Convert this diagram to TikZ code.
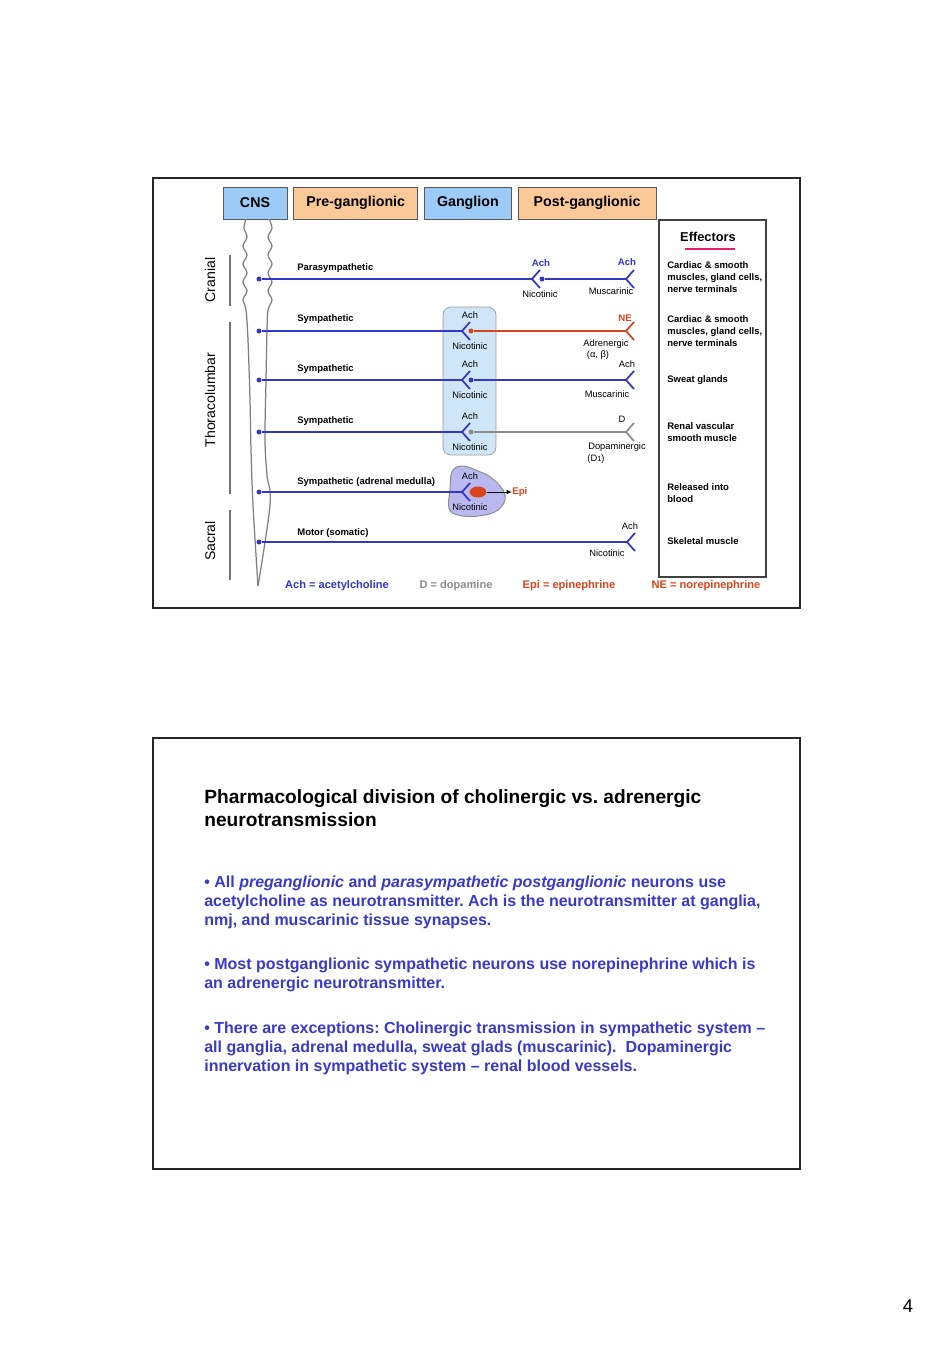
\documentclass[tikz,border=0pt]{standalone}
\usepackage{fontspec}
\setmainfont{Liberation Sans}
\usetikzlibrary{arrows.meta,positioning,shapes.geometric}
\frenchspacing
\definecolor{nerveblue}{HTML}{3535C8}
\definecolor{nered}{HTML}{D8441C}
\definecolor{dagray}{HTML}{8C8C8C}
\definecolor{headblue}{HTML}{9CCBF7}
\definecolor{headorange}{HTML}{FBC997}
\definecolor{gangfill}{HTML}{CFE6F8}
\definecolor{adrenfill}{HTML}{B9B9F0}
\definecolor{effpink}{HTML}{E0206A}
\definecolor{textblue}{HTML}{3A3AC8}
\tikzset{
  slide/.style={draw=black!85,line width=0.3mm},
  headbox/.style={draw=black!65,fill=headblue,font=\fontsize{8.1}{9}\selectfont\bfseries,minimum height=6.4mm,inner sep=1pt},
  headpost/.style={headbox,fill=headorange},
  rowlbl/.style={anchor=west,font=\fontsize{5.4}{6.5}\selectfont\bfseries,inner sep=0pt},
  rcp/.style={font=\fontsize{5.3}{6.2}\selectfont,inner sep=0pt},
  ntlbl/.style={font=\fontsize{5.5}{6.5}\selectfont\bfseries,inner sep=0pt},
  efftext/.style={anchor=west,align=left,font=\fontsize{5.4}{6.8}\selectfont\bfseries,inner sep=0pt},
  region/.style={rotate=90,font=\fontsize{8}{9}\selectfont,inner sep=0pt},
  bracket/.style={draw=black!55,line width=0.25mm},
  cord/.style={draw=black!50,line width=0.25mm},
  nerve/.style={line width=0.35mm},
  syn/.style={circle,fill,inner sep=0pt,minimum size=1mm},
  legend/.style={font=\fontsize{6.3}{7.5}\selectfont\bfseries,inner sep=0pt},
  gangbox/.style={draw=black!40,fill=gangfill,rounded corners=1.6mm,minimum width=10.6mm,minimum height=29.6mm},
  body/.style={anchor=west,align=left,text=textblue,font=\fontsize{9.1}{10.8}\selectfont\bfseries,inner sep=0pt},
  pics/fork/.style={code={\draw[line width=0.35mm] (8,-9) -- (0,0) -- (8,9);}}
}

\begin{document}
\begin{tikzpicture}[x=0.02cm,y=-0.02cm]
  \path[use as bounding box,fill=white] (0,0) rectangle (952,1347);
  % slide frames
  \draw[slide] (153,178) rectangle (800,608);
  \draw[slide] (153,738) rectangle (800,1169);

  % header
  \node[headbox,minimum width=12.8mm] (cns) at (255,203) {CNS};
  \node[headpost,minimum width=24.8mm,right=1.2mm of cns] (pre) {Pre-ganglionic};
  \node[headbox,minimum width=17.4mm,right=1.2mm of pre] (gang) {Ganglion};
  \node[headpost,minimum width=27.6mm,right=1.2mm of gang] (post) {Post-ganglionic};

  % effectors
  \draw[draw=black!75,line width=0.25mm] (659,220) rectangle (766,577);
  \node[font=\fontsize{7.3}{8}\selectfont\bfseries] (efftitle) at (708,237) {Effectors};
  \draw[effpink,line width=0.4mm] (685,249) -- (735,249);
  \node[efftext] (eff1) at (667,277) {Cardiac \& smooth\\muscles, gland cells,\\nerve terminals};
  \node[efftext] (eff2) at (667,331) {Cardiac \& smooth\\muscles, gland cells,\\nerve terminals};
  \node[efftext] (eff3) at (667,380) {Sweat glands};
  \node[efftext] (eff4) at (667,432) {Renal vascular\\smooth muscle};
  \node[efftext] (eff5) at (667,493) {Released into\\blood};
  \node[efftext] (eff6) at (667,541) {Skeletal muscle};

  % regions
  \node[region] (cranial) at (210,280) {Cranial};
  \node[region] (thoraco) at (210,400) {Thoracolumbar};
  \node[region] (sacral) at (210,541) {Sacral};
  \draw[bracket] (230,255) -- (230,306);
  \draw[bracket] (230,322) -- (230,494);
  \draw[bracket] (230,510) -- (230,580);

  % spinal cord
  \draw[cord] plot[smooth,tension=.6] coordinates {(246,219) (244,228) (247,237) (243,246) (247,255) (243,264) (247,273) (243,282) (247,291) (243,300) (246,310) (248,340) (250,400) (251,450) (253,505) (258,586)};
  \draw[cord] plot[smooth,tension=.6] coordinates {(269,219) (272,228) (268,237) (272,246) (268,255) (272,264) (268,273) (272,282) (268,291) (272,300) (268,310) (267,330) (266,380) (265,440) (267,475) (270,505) (258,586)};

  % ganglion and adrenal cell
  \node[gangbox] (gbox) at (469.5,381) {};
  \draw[draw=black!45,fill=adrenfill,line width=0.2mm] plot[smooth cycle,tension=.7] coordinates {(452,472) (462,466) (478,471) (493,479) (505,495) (498,510) (478,516) (458,515) (449,508) (450,490)};

  % row labels
  \node[rowlbl] (l1) at (297,268) {Parasympathetic};
  \node[rowlbl] (l2) at (297,319) {Sympathetic};
  \node[rowlbl] (l3) at (297,369) {Sympathetic};
  \node[rowlbl] (l4) at (297,421) {Sympathetic};
  \node[rowlbl] (l5) at (297,482) {Sympathetic (adrenal medulla)};
  \node[rowlbl] (l6) at (297,533) {Motor (somatic)};

  % pathways
  \foreach \r/\y in {1/279,2/331,3/380,4/432,5/492,6/542}
    \node[syn,nerveblue] (c\r) at (259,\y) {};
  \coordinate (g1) at (532,279);
  \coordinate (g2) at (462,331);
  \coordinate (g3) at (462,380);
  \coordinate (g4) at (462,432);
  \coordinate (g5) at (462,492);
  \coordinate (e1) at (626,279);
  \coordinate (e2) at (626,331);
  \coordinate (e3) at (626,380);
  \coordinate (e4) at (626,432);
  \coordinate (e6) at (627,542);
  \foreach \r in {1,...,5}{
    \draw[nerve,nerveblue] (c\r) -- (g\r);
    \pic[nerveblue] at (g\r) {fork};
  }
  \draw[nerve,nerveblue] (c6) -- (e6);
  \node[syn,nerveblue] (p1) at (542,279) {};
  \node[syn,nered] (p2) at (471,331) {};
  \node[syn,nerveblue] (p3) at (471,380) {};
  \node[syn,dagray] (p4) at (471,432) {};
  \draw[nerve,nerveblue] (p1) -- (e1);
  \draw[nerve,nered] (p2) -- (e2);
  \draw[nerve,nerveblue] (p3) -- (e3);
  \draw[nerve,dagray] (p4) -- (e4);
  \pic[nerveblue] at (e1) {fork};
  \pic[nered] at (e2) {fork};
  \pic[nerveblue] at (e3) {fork};
  \pic[dagray] at (e4) {fork};
  \pic[nerveblue] at (e6) {fork};

  % adrenal release
  \node[ellipse,fill=nered,minimum width=3.4mm,minimum height=2.2mm,inner sep=0pt] (chrom) at (478,492) {};
  \node[ntlbl,text=nered,anchor=west] (epi) at (512,492) {Epi};
  \draw[-{Latex[length=1.1mm,width=1mm]},line width=0.2mm] (chrom) -- (epi);

  % receptor labels
  \node[ntlbl,text=nerveblue] at (541,263) {Ach};
  \node[rcp] at (540,294) {Nicotinic};
  \node[ntlbl,text=nerveblue] at (627,262) {Ach};
  \node[rcp] at (611,291) {Muscarinic};
  \foreach \y in {331,380,432,492}{
    \node[rcp] at (470,\y-15.5) {Ach};
    \node[rcp] at (470,\y+15) {Nicotinic};
  }
  \node[ntlbl,text=nered] at (625,318) {NE};
  \node[rcp] at (606,344) {Adrenergic};
  \node[rcp] at (598,355) {(α, β)};
  \node[rcp] at (627,364) {Ach};
  \node[rcp] at (607,394) {Muscarinic};
  \node[rcp] at (622,419) {D};
  \node[rcp] at (617,447) {Dopaminergic};
  \node[rcp] at (596,459) {(D{\fontsize{4.2}{5}\selectfont 1})};
  \node[rcp] at (630,526) {Ach};
  \node[rcp] at (607,553) {Nicotinic};

  % legend
  \node[legend,text=nerveblue] (lgach) at (337,586) {Ach = acetylcholine};
  \node[legend,text=black!45] (lgd) at (456,586) {D = dopamine};
  \node[legend,text=nered] (lgepi) at (569,586) {Epi = epinephrine};
  \node[legend,text=nered] (lgne) at (706,586) {NE = norepinephrine};

  % second slide
  \node[anchor=west,align=left,inner sep=0pt,font=\fontsize{10.9}{13}\selectfont\bfseries] (title) at (204,808)
    {Pharmacological division of cholinergic vs. adrenergic\\neurotransmission};
  \node[body] (para1) at (204,902) {\textbullet\ All \textit{preganglionic} and \textit{parasympathetic postganglionic} neurons use\\acetylcholine as neurotransmitter. Ach is the neurotransmitter at ganglia,\\nmj, and muscarinic tissue synapses.};
  \node[body] (para2) at (204,974.5) {\textbullet\ Most postganglionic sympathetic neurons use norepinephrine which is\\an adrenergic neurotransmitter.};
  \node[body] (para3) at (204,1048) {\textbullet\ There are exceptions: Cholinergic transmission in sympathetic system --\\all ganglia, adrenal medulla, sweat glads (muscarinic).\ \ Dopaminergic\\innervation in sympathetic system -- renal blood vessels.};

  \node[font=\fontsize{10.5}{12}\selectfont] (pagenum) at (908,1306) {4};
\end{tikzpicture}
\end{document}
